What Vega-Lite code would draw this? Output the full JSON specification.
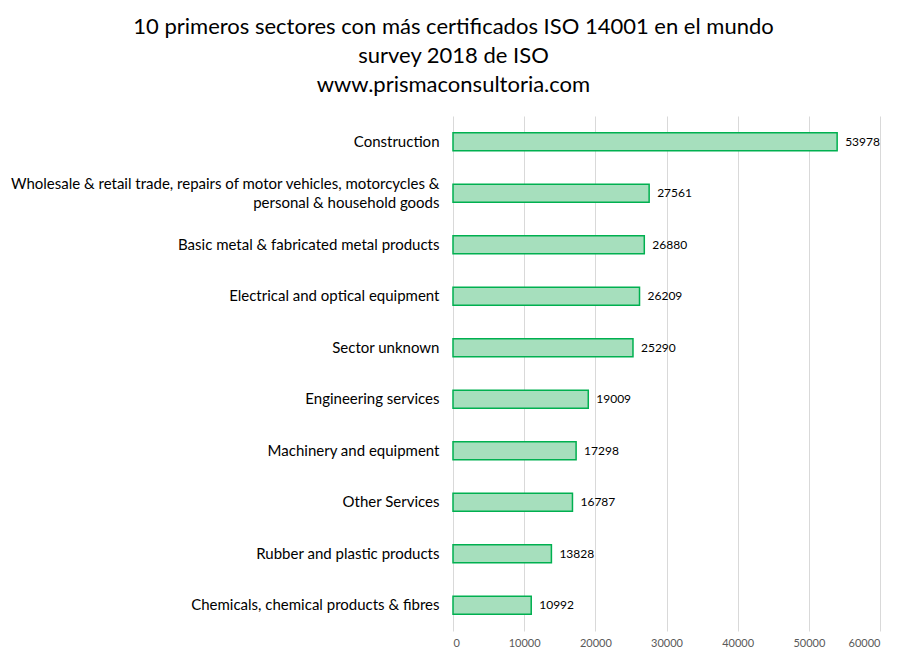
{
  "$schema": "https://vega.github.io/schema/vega-lite/v6.json",
  "width": 427,
  "height": 515,
  "padding": {"left": 5, "top": 16, "right": 5, "bottom": 5},
  "background": "white",
  "title": {
    "text": ["10 primeros sectores con más certificados ISO 14001 en el mundo", "survey 2018 de ISO", "www.prismaconsultoria.com"],
    "font": "Lato",
    "fontSize": 22,
    "fontWeight": "normal",
    "color": "#000000",
    "lineHeight": 29,
    "anchor": "middle",
    "frame": "bounds",
    "dx": 11,
    "offset": 19
  },
  "data": {
    "values": [
      {"sector": "Construction", "cert": 53978},
      {"sector": "Wholesale & retail trade, repairs of motor vehicles, motorcycles & personal & household goods", "cert": 27561},
      {"sector": "Basic metal & fabricated metal products", "cert": 26880},
      {"sector": "Electrical and optical equipment", "cert": 26209},
      {"sector": "Sector unknown", "cert": 25290},
      {"sector": "Engineering services", "cert": 19009},
      {"sector": "Machinery and equipment", "cert": 17298},
      {"sector": "Other Services", "cert": 16787},
      {"sector": "Rubber and plastic products", "cert": 13828},
      {"sector": "Chemicals, chemical products & fibres", "cert": 10992}
    ]
  },
  "encoding": {
    "y": {
      "field": "sector",
      "type": "nominal",
      "sort": null,
      "scale": {"paddingInner": 0.65, "paddingOuter": 0.325},
      "axis": {
        "title": null,
        "domain": false,
        "ticks": false,
        "grid": false,
        "labelFont": "Lato",
        "labelFontSize": 15,
        "labelColor": "#000000",
        "labelPadding": 14,
        "labelLimit": 500,
        "labelLineHeight": 19,
        "labelOffset": {"condition": {"test": "indexof(datum.label, '& personal') > 0", "value": -9}, "value": 0},
        "minExtent": 448,
        "maxExtent": 448,
        "labelExpr": "indexof(datum.label, '& personal') > 0 ? [slice(datum.label, 0, indexof(datum.label, '& personal') + 1), slice(datum.label, indexof(datum.label, '& personal') + 2)] : datum.label"
      }
    },
    "x": {
      "field": "cert",
      "type": "quantitative",
      "scale": {"domain": [0, 60000], "nice": false},
      "axis": {
        "title": null,
        "values": [0, 10000, 20000, 30000, 40000, 50000, 60000],
        "format": "d",
        "domain": false,
        "ticks": false,
        "grid": true,
        "gridColor": "#d9d9d9",
        "gridWidth": 1,
        "labelFont": "Lato",
        "labelFontSize": 11,
        "labelColor": "#595959",
        "labelPadding": 6
      }
    }
  },
  "layer": [
    {
      "mark": {"type": "bar", "fill": "#a6dfbd", "stroke": "#00b050", "strokeWidth": 1.5}
    },
    {
      "mark": {"type": "text", "align": "left", "baseline": "middle", "dx": 8, "font": "Lato", "fontSize": 12, "color": "#000000"},
      "encoding": {"text": {"field": "cert", "type": "quantitative", "format": "d"}}
    }
  ],
  "config": {"view": {"stroke": null}}
}
